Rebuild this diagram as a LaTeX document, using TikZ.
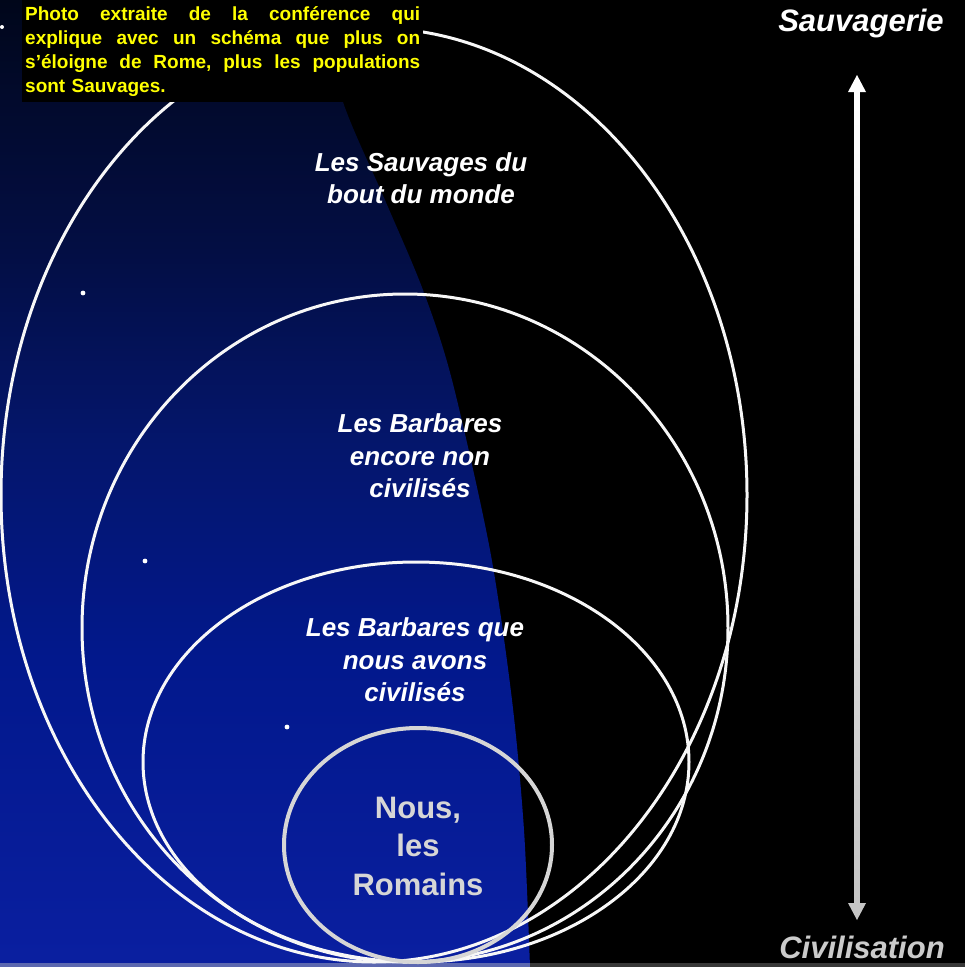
\documentclass[tikz,border=0pt]{standalone}
\usepackage{fontspec}
\setmainfont{Liberation Sans}
\usetikzlibrary{calc}
\definecolor{navybot}{HTML}{0A1FA0}
\definecolor{ringgray}{HTML}{D6D6D6}
\definecolor{notecol}{HTML}{FFFF00}
\pgfdeclareverticalshading{nightsky}{100bp}{
  color(0bp)=(navybot); color(25bp)=(navybot);
  color(41bp)=(rgb,255:red,2;green,24;blue,140);
  color(52bp)=(rgb,255:red,4;green,22;blue,108);
  color(62bp)=(rgb,255:red,3;green,14;blue,68);
  color(70bp)=(rgb,255:red,2;green,10;blue,44);
  color(75bp)=(rgb,255:red,0;green,6;blue,26);
  color(100bp)=(rgb,255:red,0;green,6;blue,26)}
\newcommand\spreadline[1]{\leavevmode\hbox to 395pt{#1}}
\begin{document}
\begin{tikzpicture}[x=1pt,y=-1pt,
  ring/.style={draw=white!94!gray,line width=3pt},
  innerring/.style={draw=ringgray,line width=4pt},
  zone/.style={align=center,text=white,font=\bfseries\itshape\fontsize{26}{32.5}\selectfont},
  romans/.style={align=center,text=ringgray,font=\bfseries\fontsize{31}{38.5}\selectfont},
  axislabel/.style={font=\bfseries\itshape\fontsize{31}{36}\selectfont},
  note/.style={anchor=north west,fill=black,text=notecol,align=left,text width=395pt,
    inner xsep=3pt,inner ysep=6pt,font=\bfseries\fontsize{19}{24}\selectfont},
  star/.style={fill=white,radius=2.4pt}]
\useasboundingbox (0,0) rectangle (965,967);
\fill[black] (0,0) rectangle (965,967);
\shade[shading=nightsky]
  plot[smooth] coordinates {(318,0) (343,102) (385,200) (423,290) (452,380) (490,550) (512,700) (524,830) (530,967)}
  -- (0,967) -- (0,0) -- cycle;
\fill[navybot!70!white!80!gray] (0,963) rectangle (530,967);
\fill[black!78] (530,963) rectangle (965,967);
\fill[star] (83,293) circle;
\fill[star] (145,561) circle;
\fill[star] (287,727) circle;
\fill[star] (2,27) circle[radius=2pt];
\draw[ring] (374,495) ellipse [x radius=373pt,y radius=467pt];
\draw[ring] (405,628) ellipse [x radius=323pt,y radius=334pt];
\draw[ring] (416,762) ellipse [x radius=273pt,y radius=200pt];
\draw[innerring] (418,845) ellipse [x radius=134pt,y radius=117pt];
\node[zone] (sauvages) at (421,178) {Les Sauvages du\\bout du monde};
\node[zone] (encore) at (420,456) {Les Barbares\\encore non\\civilisés};
\node[zone] (avons) at (415,660) {Les Barbares que\\nous avons\\civilisés};
\node[romans] (nous) at (418,846) {Nous,\\les\\Romains};
\node[axislabel,text=white] (sauvagerie) at (861,23) {Sauvagerie};
\node[axislabel,text=ringgray!95!black] (civilisation) at (862,947) {Civilisation};
\coordinate (up) at (857,75);
\coordinate (down) at (857,920);
\shade[top color=white,bottom color=ringgray!92!black] ($(up)+(-2.5,15)$) rectangle ($(down)+(2.5,-15)$);
\fill[white] (up) -- ++(-9,17) -- ++(18,0) -- cycle;
\fill[ringgray!92!black] (down) -- ++(-9,-17) -- ++(18,0) -- cycle;
\node[note] (caption) at (22,0) {\spreadline{Photo\hfill extraite\hfill de\hfill la\hfill conférence\hfill qui}\\
\spreadline{explique\hfill avec\hfill un\hfill schéma\hfill que\hfill plus\hfill on}\\
\spreadline{s’éloigne\hfill de\hfill Rome,\hfill plus\hfill les\hfill populations}\\
sont Sauvages.};
\end{tikzpicture}
\end{document}
